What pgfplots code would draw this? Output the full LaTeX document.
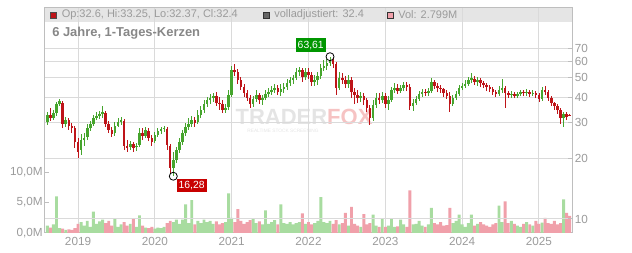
\documentclass[border=0pt]{standalone}
\usepackage{pgfplots}
\pgfplotsset{compat=1.18}
\usepackage{pgfplotstable}
\usepackage{fontspec}
\setmainfont{Liberation Sans}
\definecolor{headbg}{RGB}{229,229,229}
\definecolor{gridgray}{RGB}{218,218,218}
\definecolor{framegray}{RGB}{190,190,190}
\definecolor{labelgray}{RGB}{155,155,155}
\definecolor{titlegray}{RGB}{135,135,135}
\definecolor{candred}{RGB}{190,20,25}
\definecolor{candgreen}{RGB}{70,165,45}
\definecolor{volpink}{RGB}{240,160,170}
\definecolor{volgreen}{RGB}{168,220,160}
\definecolor{wmgray}{RGB}{228,228,228}
\definecolor{wmpink}{RGB}{246,195,195}
\definecolor{lblgreen}{RGB}{0,150,0}
\definecolor{lblred}{RGB}{200,0,0}

\pgfplotstableread{
t o h l c v
2018.60 30.2 33.9 29.2 32.7 1.2
2018.64 32.7 35.5 30.6 31.6 0.9
2018.68 31.6 34.7 30.9 33.5 1.4
2018.72 33.5 38.0 32.4 37.1 6.0
2018.76 37.1 39.3 36.3 38.4 0.8
2018.80 37.5 38.4 28.2 29.6 0.7
2018.84 29.6 32.0 28.6 30.9 0.5
2018.88 30.9 31.6 27.6 28.9 0.6
2018.92 28.9 29.9 26.7 28.2 0.5
2018.96 28.2 28.9 22.5 24.1 0.8
2019.00 24.1 25.2 20.1 21.5 1.5
2019.04 22.0 26.4 20.8 24.6 1.8
2019.08 24.6 26.7 23.0 25.2 1.2
2019.12 25.5 29.6 24.6 28.2 2.0
2019.16 28.2 30.6 27.3 29.6 1.0
2019.20 29.6 32.7 28.9 31.6 3.5
2019.24 31.6 33.9 30.9 32.4 1.5
2019.28 32.4 34.3 31.3 33.1 1.9
2019.32 33.1 36.3 31.6 33.9 2.2
2019.36 33.5 34.3 28.6 29.6 1.6
2019.40 29.6 30.6 26.7 27.6 2.0
2019.44 27.6 28.6 25.5 26.4 1.2
2019.48 26.7 30.2 25.8 28.9 2.3
2019.52 28.9 31.6 28.6 30.2 1.0
2019.56 30.2 32.0 29.2 30.9 1.4
2019.60 30.6 31.3 22.0 23.0 1.8
2019.64 23.0 24.6 21.5 22.5 1.2
2019.68 22.7 24.3 22.0 23.5 1.5
2019.72 23.5 24.1 21.5 22.5 2.3
2019.76 22.7 23.8 21.7 23.0 1.0
2019.80 23.3 28.2 22.7 26.7 2.9
2019.84 26.7 28.2 24.6 25.8 1.2
2019.88 25.8 28.6 25.2 27.6 0.9
2019.92 27.3 28.2 24.3 25.2 0.8
2019.96 25.2 26.1 23.0 24.1 1.0
2020.00 24.3 27.0 23.8 26.1 0.7
2020.04 26.1 28.2 25.5 27.3 0.9
2020.08 27.3 28.6 26.4 27.9 0.8
2020.12 27.9 28.9 27.0 28.2 1.0
2020.16 27.9 28.6 22.0 23.3 1.6
2020.20 23.0 23.5 16.9 17.9 2.0
2020.24 17.9 21.5 16.28 19.6 1.8
2020.28 19.6 22.7 18.9 22.0 2.2
2020.32 22.0 25.2 21.2 24.1 1.5
2020.36 24.1 27.6 23.3 26.7 2.2
2020.40 26.7 29.9 25.8 28.6 4.7
2020.44 28.6 31.6 27.6 29.6 1.6
2020.48 29.6 32.4 28.6 30.9 5.4
2020.52 30.9 32.0 28.6 29.9 1.4
2020.56 30.2 34.7 29.6 32.7 2.0
2020.60 32.7 36.3 31.6 34.7 1.6
2020.64 34.7 38.8 33.5 37.1 2.2
2020.68 37.1 40.2 35.9 38.8 1.8
2020.72 38.8 41.6 37.1 39.7 2.0
2020.76 39.7 42.1 38.0 40.6 1.5
2020.80 40.6 42.5 36.3 37.5 1.9
2020.84 37.5 40.2 34.7 37.1 1.4
2020.88 37.1 38.8 33.5 34.7 1.6
2020.92 34.7 37.1 33.5 35.5 1.8
2020.96 35.9 43.5 34.7 41.1 6.5
2021.00 41.1 57.2 40.2 54.7 2.5
2021.04 54.7 58.5 51.0 53.4 1.8
2021.08 53.4 55.3 46.6 48.8 3.9
2021.12 48.8 50.5 43.5 45.0 2.0
2021.16 45.0 46.6 40.2 42.1 1.5
2021.20 42.1 43.5 38.4 39.7 1.8
2021.24 39.7 41.1 35.5 37.1 2.1
2021.28 37.1 40.6 35.9 39.3 2.3
2021.32 39.3 43.5 38.0 41.1 1.6
2021.36 41.1 42.1 37.1 38.8 1.9
2021.40 38.8 41.1 36.7 39.7 1.4
2021.44 39.7 43.5 38.8 41.6 3.7
2021.48 41.6 44.5 40.2 42.5 1.5
2021.52 42.5 45.6 41.1 43.5 1.8
2021.56 43.5 46.6 42.1 44.5 2.1
2021.60 44.5 46.1 41.1 42.5 1.4
2021.64 42.5 46.6 40.6 44.0 4.7
2021.68 44.0 47.1 42.1 45.0 1.6
2021.72 45.0 49.3 43.5 47.1 1.5
2021.76 47.1 50.5 45.6 48.8 1.8
2021.80 48.8 51.6 46.6 49.9 1.4
2021.84 49.9 55.9 48.8 53.4 1.6
2021.88 53.4 56.6 51.0 54.7 1.8
2021.92 54.7 55.9 47.7 50.5 3.2
2021.96 50.5 55.9 48.8 53.4 1.5
2022.00 53.4 55.9 49.3 51.6 1.8
2022.04 51.6 53.4 45.6 47.7 1.4
2022.08 47.7 51.6 45.6 48.8 1.6
2022.12 48.8 53.4 46.1 51.0 2.0
2022.16 51.0 58.5 49.3 55.9 5.9
2022.20 55.9 61.3 54.0 57.2 1.8
2022.24 57.2 62.0 54.7 59.2 1.6
2022.28 59.2 63.61 57.2 61.3 2.0
2022.32 61.3 62.7 55.9 58.5 1.5
2022.36 58.5 59.9 41.1 44.5 2.1
2022.40 44.5 53.4 43.5 49.9 1.4
2022.44 49.9 52.8 46.6 48.8 1.6
2022.48 48.8 51.0 44.5 46.6 3.3
2022.52 46.6 51.6 44.5 48.8 1.2
2022.56 48.8 50.5 39.7 42.5 4.3
2022.60 42.5 44.5 37.1 41.1 1.5
2022.64 41.1 43.5 37.5 39.7 1.2
2022.68 39.7 42.5 38.0 40.6 1.0
2022.72 40.6 42.1 36.7 38.8 3.1
2022.76 38.8 39.7 33.9 35.5 1.4
2022.80 35.5 36.7 29.2 31.6 1.6
2022.84 31.6 38.8 30.6 36.7 3.0
2022.88 36.7 42.1 35.5 39.7 1.2
2022.92 39.7 42.1 37.1 38.8 1.0
2022.96 38.8 42.5 37.5 40.6 2.3
2023.00 40.6 42.1 35.5 37.1 1.0
2023.04 37.1 40.6 34.7 38.8 1.2
2023.08 38.8 45.0 38.0 43.5 2.3
2023.12 43.5 47.1 42.1 44.5 1.0
2023.16 44.5 46.6 41.6 43.0 1.1
2023.20 43.0 46.1 42.1 44.5 2.2
2023.24 44.5 47.7 43.0 46.1 1.4
2023.28 46.1 47.7 43.0 45.0 1.0
2023.32 45.0 46.6 34.7 36.3 7.0
2023.36 36.3 39.3 34.3 37.5 1.4
2023.40 37.5 40.6 36.7 39.3 1.5
2023.44 39.3 43.0 38.4 41.6 2.0
2023.48 41.6 44.0 40.2 42.5 1.2
2023.52 42.5 44.0 40.6 42.1 1.0
2023.56 42.1 44.5 40.6 43.0 1.4
2023.60 43.0 49.9 42.1 47.7 4.1
2023.64 47.7 48.8 44.0 45.6 1.6
2023.68 45.6 47.1 42.5 44.5 1.4
2023.72 44.5 46.1 42.1 44.0 1.8
2023.76 44.0 44.5 40.2 42.1 1.2
2023.80 42.1 43.5 39.3 40.6 1.3
2023.84 40.6 42.5 33.9 37.1 4.1
2023.88 37.1 41.1 36.3 39.7 1.6
2023.92 39.7 43.0 38.8 41.6 2.0
2023.96 41.6 46.1 40.6 44.5 3.0
2024.00 44.5 47.1 43.5 45.6 1.4
2024.04 45.6 48.8 44.5 46.6 1.0
2024.08 46.6 50.5 45.6 48.8 1.6
2024.12 48.8 52.8 47.1 49.9 3.0
2024.16 49.3 51.0 46.1 47.7 1.2
2024.20 47.7 50.5 45.6 48.8 1.5
2024.24 48.8 49.9 45.0 47.1 1.8
2024.28 47.1 48.2 44.5 46.1 1.4
2024.32 46.1 47.1 43.0 45.0 1.2
2024.36 45.0 46.1 42.5 44.0 1.0
2024.40 44.0 45.0 41.1 42.5 1.4
2024.44 42.5 43.5 40.2 41.6 1.6
2024.48 41.6 45.6 40.6 43.5 4.5
2024.52 43.5 49.3 42.1 44.5 1.8
2024.56 44.5 45.6 35.5 42.1 5.2
2024.60 42.1 43.0 39.7 41.1 1.6
2024.64 41.1 43.0 39.7 41.6 2.0
2024.68 41.6 42.5 39.7 40.6 1.5
2024.72 40.6 42.5 39.7 41.6 1.2
2024.76 41.6 43.5 40.6 42.5 1.0
2024.80 42.5 43.5 40.6 42.1 1.5
2024.84 42.1 44.0 40.6 42.5 1.8
2024.88 42.5 43.5 40.2 41.6 1.4
2024.92 41.6 43.5 40.6 42.1 1.2
2024.96 42.1 43.0 39.7 41.1 2.0
2025.00 41.1 42.1 38.0 39.3 1.5
2025.04 39.3 45.0 38.4 43.5 1.7
2025.08 43.5 45.6 41.1 42.5 2.5
2025.12 42.5 43.5 38.4 39.7 1.6
2025.16 39.7 40.6 36.3 37.5 1.5
2025.20 37.5 38.0 34.7 36.3 2.0
2025.24 36.3 37.1 33.1 34.7 1.4
2025.28 34.7 35.5 29.6 31.6 1.6
2025.32 31.6 33.9 28.6 33.1 5.5
2025.36 33.1 33.9 30.9 32.0 3.3
2025.40 32.6 33.25 32.37 32.4 2.8
}\candles

\pgfplotsset{
  chartbox/.style={at={(0,0)}, anchor=south west, scale only axis,
    width=395.25pt, height=168.75pt, xmin=2018.570, xmax=2025.430,
    major grid style={draw=gridgray, line width=0.75pt},
    tick align=inside, major tick length=3pt,
    ticklabel style={font=\fontsize{8.8}{10}\selectfont, text=labelgray},
    /pgf/number format/assume math mode=true},
  upc/.style={restrict expr to domain={\thisrow{c}-\thisrow{o}}{0:1000}},
  dnc/.style={restrict expr to domain={\thisrow{c}-\thisrow{o}}{-1000:-0.00001}},
  candle/.style={draw=none, mark=none, no markers, error bars/.cd, y dir=plus, y explicit, error mark=none},
}

\begin{document}
\begin{tikzpicture}[x=0.75pt,y=0.75pt]
\useasboundingbox (-45,-20) rectangle (587,233);
\fill[headbg] (0,210.5) rectangle (527,225);
\node[font=\bfseries\fontsize{16.5}{16.5}\selectfont, text=wmgray, inner sep=0] at (259,116) {TRADER\textcolor{wmpink}{FOX}};
\node[font=\fontsize{3.6}{4}\selectfont, text=wmgray, inner sep=0] at (238,102.5) {REALTIME STOCK SCREENING};

\begin{axis}[chartbox, ymin=0, ymax=36.9,
  axis line style={draw=framegray, line width=0.75pt},
  xtick={2019,2020,2021,2022,2023,2024,2025},
  xticklabels={2019,2020,2021,2022,2023,2024,2025},
  xmajorgrids, xtick style={draw=none},
  ytick={0,5,10}, yticklabels={{0,0M},{5,0M},{10,0M}},
  ytick pos=left, ytick style={draw=framegray, line width=0.75pt},
  yticklabel style={inner xsep=1.5pt},
  xticklabel style={inner ysep=3pt}]
\addplot[ybar, bar width=2.2pt, bar shift=0pt, fill=volgreen, draw=none, upc] table[x=t,y=v]{\candles};
\addplot[ybar, bar width=2.2pt, bar shift=0pt, fill=volpink, draw=none, dnc] table[x=t,y=v]{\candles};
\end{axis}

\begin{axis}[chartbox, ymode=log, ymin=8.525, ymax=110.8,
  axis x line=none, axis y line*=right,
  axis line style={draw=framegray, line width=0.75pt},
  ytick={10,20,30,40,50,60,70}, yticklabels={10,20,30,40,50,60,70},
  yminorticks=false, ymajorgrids,
  ytick style={draw=framegray, line width=0.75pt},
  yticklabel style={inner xsep=2pt}]
% wicks
\addplot[upc, candle, error bar style={draw=candgreen, line width=0.7pt}]
  table[x=t, y=l, y error plus expr=\thisrow{h}-\thisrow{l}]{\candles};
\addplot[dnc, candle, error bar style={draw=candred, line width=0.7pt}]
  table[x=t, y=l, y error plus expr=\thisrow{h}-\thisrow{l}]{\candles};
% bodies
\addplot[upc, candle, error bar style={draw=candgreen, line width=1.9pt}]
  table[x=t, y=o, y error plus expr=\thisrow{c}-\thisrow{o}]{\candles};
\addplot[dnc, candle, error bar style={draw=candred, line width=1.9pt}]
  table[x=t, y=c, y error plus expr=\thisrow{o}-\thisrow{c}]{\candles};
% extremes
\addplot[only marks, mark=o, mark size=3pt, black, line width=0.6pt] coordinates {(2022.28,63.61) (2020.24,16.28)};
\node[fill=lblgreen, text=white, font=\fontsize{7.8}{9}\selectfont, inner xsep=1.5pt, inner ysep=2pt, anchor=south east]
  at (axis cs:2022.28,63.61) [xshift=-3pt, yshift=3pt] {63,61};
\node[fill=lblred, text=white, font=\fontsize{7.8}{9}\selectfont, inner xsep=1.5pt, inner ysep=2pt, anchor=north west]
  at (axis cs:2020.24,16.28) [xshift=2.25pt, yshift=-1.5pt] {16,28};
\end{axis}

% header legend
\filldraw[fill=candred, draw=black!70, line width=0.5pt] (5.5,215) rectangle (11.5,221);
\node[anchor=west, inner sep=0, font=\fontsize{8.25}{10}\selectfont, text=labelgray] at (16.5,218) {Op:32.6, Hi:33.25, Lo:32.37, Cl:32.4};
\filldraw[fill=black!60, draw=black!80, line width=0.5pt] (218.5,215) rectangle (224.5,221);
\node[anchor=west, inner sep=0, font=\fontsize{8.25}{10}\selectfont, text=labelgray] at (229,218) {volladjustiert: 32.4};
\filldraw[fill=volpink, draw=black!80, line width=0.5pt] (342.5,215) rectangle (348.5,221);
\node[anchor=west, inner sep=0, font=\fontsize{8.25}{10}\selectfont, text=labelgray] at (353,218) {Vol: 2.799M};
\node[anchor=west, inner sep=0, font=\bfseries\fontsize{9.7}{11}\selectfont, text=titlegray] at (7,200) {6 Jahre, 1-Tages-Kerzen};
\end{tikzpicture}
\end{document}
